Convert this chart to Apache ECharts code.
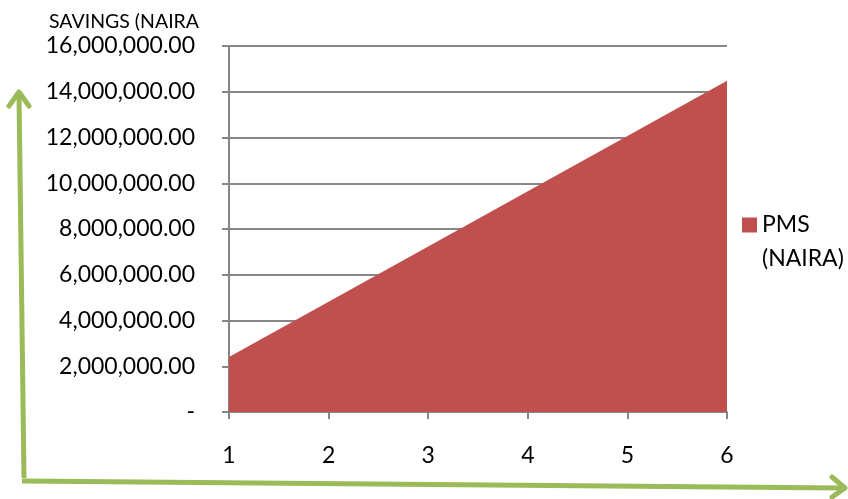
<!DOCTYPE html>
<html>
<head>
<meta charset="utf-8">
<script src="https://cdn.jsdelivr.net/npm/echarts@6/dist/echarts.min.js"></script>
<style>
  html, body { margin: 0; padding: 0; background: #fff; }
  #chart { width: 848px; height: 499px; }
</style>
</head>
<body>
<div id="chart"></div>
<script>
/**
 * savings area chart
 */
var years = ['1', '2', '3', '4', '5', '6'];
var pmsSavings = [2400000, 4820000, 7240000, 9650000, 12070000, 14480000];
var yTicks = { min: 0, max: 16000000, interval: 2000000 };

var FONT = 'Lato, "Open Sans", sans-serif';
var GREEN = '#9BBB59';

function moneyLabel(v) {
  if (v === 0) return '-';
  return v.toLocaleString('en-US', { minimumFractionDigits: 2, maximumFractionDigits: 2 });
}

var chart = echarts.init(document.getElementById('chart'));
chart.setOption({
  animation: false,
  color: ['#C0504D'],
  title: {
    text: 'SAVINGS (NAIRA',
    left: 44,
    top: 7,
    textStyle: { fontFamily: FONT, fontSize: 19.5, fontWeight: 'normal', color: '#000' }
  },
  legend: {
    orient: 'vertical',
    left: 737,
    top: 203,
    // square sits at the top of a taller box so it lines up with the first text line
    icon: 'path://M0,0L15,0L15,15L0,15Z M0,49L0,49',
    itemWidth: 15,
    itemHeight: 49,
    itemGap: 6,
    textStyle: { fontFamily: FONT, fontSize: 23, color: '#000', lineHeight: 34 },
    data: [{ name: 'PMS\n(NAIRA)' }]
  },
  grid: { left: 229, right: 121, top: 46, bottom: 87 },
  xAxis: {
    type: 'category',
    data: years,
    boundaryGap: false,
    axisLine: { lineStyle: { color: '#868686', width: 2 } },
    axisTick: { length: 7, lineStyle: { color: '#868686', width: 2 } },
    axisLabel: { margin: 32, fontFamily: FONT, fontSize: 23, color: '#000' }
  },
  yAxis: {
    type: 'value',
    min: yTicks.min,
    max: yTicks.max,
    interval: yTicks.interval,
    axisLine: { show: true, lineStyle: { color: '#868686', width: 2 } },
    axisTick: { show: true, length: 7, lineStyle: { color: '#868686', width: 2 } },
    splitLine: { lineStyle: { color: '#868686', width: 2 } },
    axisLabel: { margin: 34, fontFamily: FONT, fontSize: 23, color: '#000', formatter: moneyLabel }
  },
  series: [
    {
      name: 'PMS\n(NAIRA)',
      type: 'line',
      data: pmsSavings,
      symbol: 'none',
      lineStyle: { width: 0 },
      areaStyle: { color: '#C0504D', opacity: 1 },
      z: 3
    }
  ],
  graphic: [
    // green hand-drawn arrows round the axes
    {
      type: 'polyline',
      shape: { points: [[24, 478], [19, 94]] },
      style: { stroke: GREEN, lineWidth: 5, fill: null }
    },
    {
      type: 'polyline',
      shape: { points: [[9, 106], [19, 92], [29, 106]] },
      style: { stroke: GREEN, lineWidth: 5, fill: null, lineCap: 'round', lineJoin: 'round' }
    },
    {
      type: 'polyline',
      shape: { points: [[22, 481], [842, 488]] },
      style: { stroke: GREEN, lineWidth: 5, fill: null }
    },
    {
      type: 'polyline',
      shape: { points: [[832, 477], [845, 488], [832, 497]] },
      style: { stroke: GREEN, lineWidth: 5, fill: null, lineCap: 'round', lineJoin: 'round' }
    }
  ]
});
</script>
</body>
</html>
